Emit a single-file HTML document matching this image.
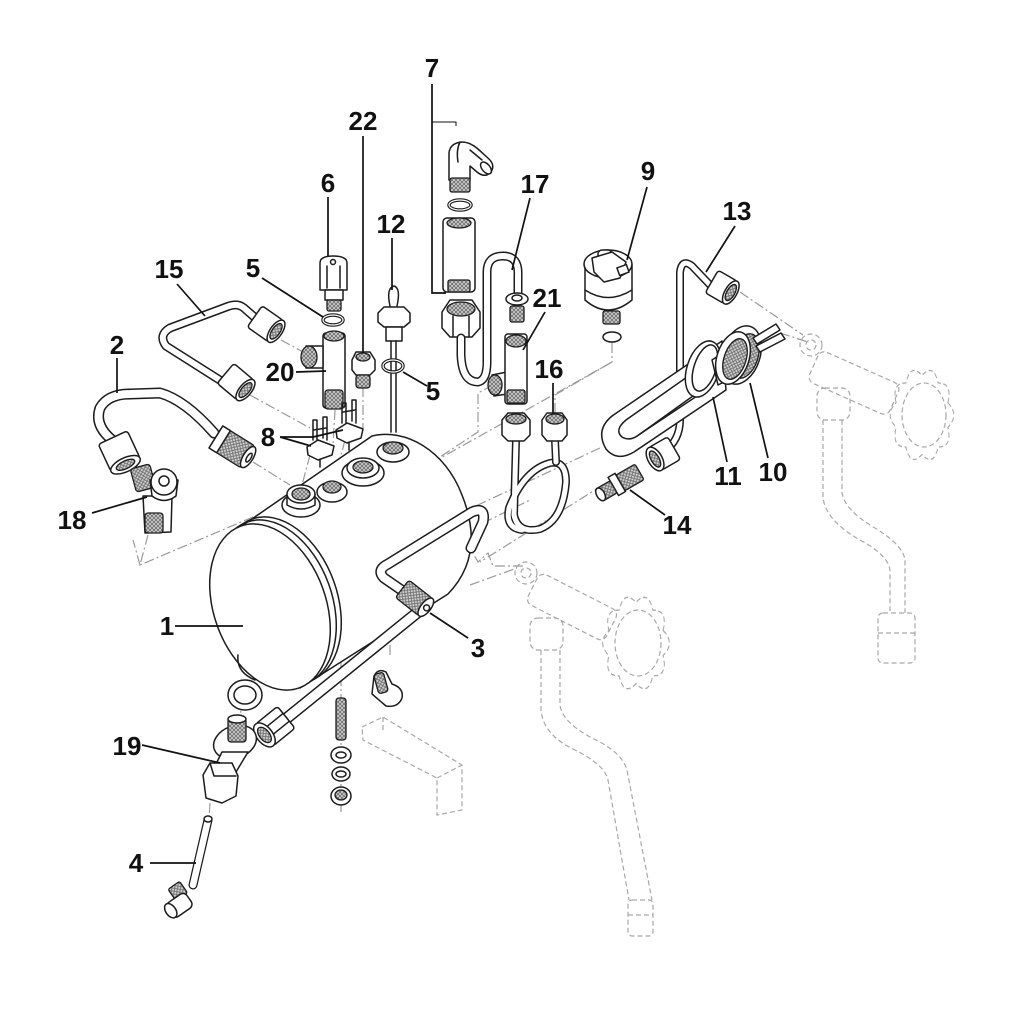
<!DOCTYPE html>
<html><head><meta charset="utf-8"><style>
html,body{margin:0;padding:0;background:#fff;}
svg{display:block}
text{font-family:"Liberation Sans",sans-serif;font-weight:bold;font-size:26px;fill:#111;text-anchor:middle;}
.k{fill:none;stroke:#1c1c1c;stroke-width:1.5;stroke-linejoin:round;stroke-linecap:round}
.w{fill:#fff;stroke:#1c1c1c;stroke-width:1.5;stroke-linejoin:round}
.h{fill:url(#hp);stroke:#1c1c1c;stroke-width:1.3}
.d{fill:none;stroke:#9a9a9a;stroke-width:1.2;stroke-dasharray:10 3 2 3}
.g{fill:none;stroke:#a8a8a8;stroke-width:1.2;stroke-dasharray:5 3}
.l{fill:none;stroke:#111;stroke-width:1.7}
.to{fill:none;stroke:#1c1c1c;stroke-linecap:round;stroke-linejoin:round}
.ti{fill:none;stroke:#fff;stroke-linecap:round;stroke-linejoin:round}
.ring{fill:none;stroke:#1c1c1c;stroke-width:3.5}
.ringi{fill:none;stroke:#fff;stroke-width:1.2}
</style></head><body>
<svg width="1024" height="1024" viewBox="0 0 1024 1024" xmlns="http://www.w3.org/2000/svg">
<defs>
<pattern id="hp" width="4" height="4" patternUnits="userSpaceOnUse"><rect width="4" height="4" fill="#d2d2d2"/><path d="M0 4L4 0M0 0L4 4" stroke="#6a6a6a" stroke-width="0.8"/></pattern>
<path id="wheel" d="M30.8,-11.1 Q45,0 30.8,11.1 Q36.4,29.4 19.1,29.1 Q13.9,47.6 0,36 Q-13.9,47.6 -19.1,29.1 Q-36.4,29.4 -30.8,11.1 Q-45,0 -30.8,-11.1 Q-36.4,-29.4 -19.1,-29.1 Q-13.9,-47.6 0,-36 Q13.9,-47.6 19.1,-29.1 Q36.4,-29.4 30.8,-11.1 Z"/>
</defs>

<!-- dash-dot connector lines -->
<g class="d">
<path d="M148 535 L140 565 L300 497"/>
<path d="M140 565 L133 540"/>
<path d="M253 462 L290 485"/>
<path d="M250 395 L310 428"/>
<path d="M281 340 L305 353"/>
<path d="M335 410 L333 445"/>
<path d="M363 387 L363 428"/>
<path d="M310 455 L302 485"/>
<path d="M345 440 L335 478"/>
<path d="M493 385 L478 393 L478 432 L440 457"/>
<path d="M612 343 L612 362 L437 460"/>
<path d="M555 413 L555 395 L612 362"/>
<path d="M600 448 L420 532"/>
<path d="M603 485 L480 562"/>
<path d="M377 477 L473 553 L478 562 L488 553 L493 566 L525 566"/>
<path d="M483 523 L530 500"/>
<path d="M740 292 L803 335"/>
<path d="M780 333 L808 342"/>
<path d="M470 585 L517 568"/>
<path d="M390 627 L390 655"/>
<path d="M341 640 L341 812"/>
<path d="M245 680 L240 717"/>
<path d="M210 803 L209 818"/>
</g>

<!-- ghost group 1 -->
<g class="g">
<circle cx="526" cy="573" r="11"/>
<circle cx="526" cy="573" r="5"/>
<rect x="528" y="590" width="88" height="34" rx="7" transform="rotate(27 572 607)"/>
<rect x="530" y="618" width="33" height="32" rx="8"/>
<path d="M541 650 L541 710 Q543 735 575 750 Q605 765 608 780 L629 900"/>
<path d="M560 650 L560 705 Q562 722 592 738 Q622 752 627 770 L652 900"/>
<rect x="628" y="900" width="25" height="36" rx="4"/>
<path d="M628 915 L653 915"/>
<g transform="translate(636 643) scale(0.88 1.13)"><use href="#wheel"/></g>
<ellipse cx="638" cy="643" rx="23" ry="33"/>
</g>
<!-- ghost group 2 -->
<g class="g">
<circle cx="811" cy="345" r="11"/>
<circle cx="811" cy="345" r="5"/>
<rect x="810" y="366" width="88" height="34" rx="7" transform="rotate(24 854 383)"/>
<rect x="817" y="388" width="33" height="32" rx="8"/>
<path d="M823 420 L823 497 Q825 520 860 540 Q888 555 890 570 L890 613"/>
<path d="M842 420 L842 492 Q844 510 875 528 Q903 545 905 560 L905 613"/>
<rect x="878" y="613" width="37" height="50" rx="5"/>
<path d="M878 633 L915 633"/>
<g transform="translate(922 415) scale(0.84 1.1)"><use href="#wheel"/></g>
<ellipse cx="924" cy="415" rx="22" ry="32"/>
</g>
<!-- bracket ghost -->
<path class="g" d="M362 727 L383 717 L462 765 L462 810 L437 815 L437 778 L363 740 Z M383 717 L383 730 M437 778 L462 765"/>

<!-- TANK -->
<path class="w" d="M236 530 L372 436 C405 428 445 450 462 495 C476 530 476 565 448 594 L300 688 Z"/>
<ellipse class="k" cx="281" cy="600" rx="56" ry="86" transform="rotate(-20 281 600)" stroke-width="1"/>
<ellipse class="k" cx="276" cy="603" rx="56" ry="86" transform="rotate(-20 276 603)" stroke-width="1"/>
<ellipse class="w" cx="270" cy="607" rx="56" ry="86" transform="rotate(-20 270 607)"/>
<path class="k" d="M238 655 Q236 672 255 680"/>
<!-- ports -->
<g>
<ellipse class="w" cx="301" cy="505" rx="19" ry="12"/>
<path class="w" d="M287 494 L287 505 Q301 513 315 505 L315 494"/>
<ellipse class="w" cx="301" cy="494" rx="14" ry="9"/>
<ellipse class="h" cx="301" cy="494" rx="9" ry="6"/>
<ellipse class="w" cx="332" cy="492" rx="15" ry="10"/>
<ellipse class="h" cx="332" cy="487" rx="9" ry="6"/>
<ellipse class="w" cx="363" cy="473" rx="21" ry="13"/>
<ellipse class="w" cx="363" cy="468" rx="16" ry="10"/>
<ellipse class="h" cx="363" cy="467" rx="10" ry="6"/>
<ellipse class="w" cx="393" cy="452" rx="16" ry="10"/>
<ellipse class="h" cx="393" cy="448" rx="10" ry="6"/>
</g>

<!-- Pipe 3 U-loop -->
<path class="to" stroke-width="11" d="M413 598 L384 578 Q376 570 388 564 L472 512 Q486 506 483 522 L471 548"/>
<path class="ti" stroke-width="8" d="M413 598 L384 578 Q376 570 388 564 L472 512 Q486 506 483 522 L471 548"/>
<!-- long lower tube -->
<path class="to" stroke-width="12" d="M418 612 L282 722"/>
<path class="ti" stroke-width="9" d="M418 612 L282 722"/>
<!-- nut 3 -->
<g transform="rotate(38 414 598)">
<rect class="h" x="399" y="587" width="30" height="22" rx="3"/>
<ellipse class="w" cx="429" cy="598" rx="5" ry="11"/>
<circle class="w" cx="430" cy="598" r="3"/>
</g>
<!-- lower nut -->
<g transform="rotate(-39 273 728)">
<rect class="w" x="262" y="714" width="28" height="28" rx="3"/>
<path class="k" d="M262 723 L290 723 M262 733 L290 733"/>
<ellipse class="w" cx="262" cy="728" rx="8" ry="14"/>
<ellipse class="h" cx="262" cy="728" rx="5" ry="9"/>
</g>

<!-- washer -->
<ellipse class="w" cx="245" cy="695" rx="17" ry="15"/>
<ellipse class="w" cx="245" cy="695" rx="11" ry="9"/>
<!-- part 19 -->
<g>
<ellipse class="w" cx="235" cy="742" rx="22" ry="16" transform="rotate(-20 235 742)"/>
<path class="w" d="M222 752 L214 768 L236 772 L248 752 Z"/>
<path class="w" d="M203 775 L210 763 L232 763 L238 776 L236 796 L222 803 L206 798 Z"/>
<path class="k" d="M210 763 L214 776 L236 776"/>
<rect class="h" x="228" y="718" width="18" height="24" rx="3"/>
<ellipse class="w" cx="237" cy="719" rx="9" ry="4"/>
</g>
<!-- part 4 tube -->
<path class="to" stroke-width="9" stroke="#666" d="M208 820 L193 885"/>
<path class="ti" stroke-width="6.5" d="M208 820 L193 885"/>
<ellipse class="w" cx="208" cy="819" rx="4" ry="3"/>
<g transform="rotate(-35 180 903)">
<rect class="h" x="178" y="885" width="14" height="14" rx="2"/>
<rect class="w" x="166" y="896" width="24" height="17" rx="5"/>
<ellipse class="w" cx="168" cy="904" rx="5" ry="8"/>
</g>
<!-- stud & washers -->
<rect class="h" x="336" y="698" width="10" height="42" rx="3"/>
<ellipse class="w" cx="341" cy="755" rx="10" ry="8"/><ellipse class="k" cx="341" cy="755" rx="5" ry="3"/>
<ellipse class="w" cx="341" cy="774" rx="9" ry="7"/><ellipse class="k" cx="341" cy="774" rx="5" ry="3"/>
<ellipse class="w" cx="341" cy="796" rx="10" ry="9"/><ellipse class="h" cx="341" cy="795" rx="6" ry="5"/>
<!-- elbow part -->
<path class="w" d="M374 676 Q378 668 386 672 L392 684 Q404 688 402 698 Q398 708 386 706 L372 694 Z"/>
<rect class="h" x="376" y="673" width="10" height="20" rx="3" transform="rotate(-15 381 683)"/>

<!-- Part 2 -->
<path class="to" stroke-width="11" d="M112 440 Q94 425 100 408 Q108 394 130 394 L160 393 Q185 400 214 433"/>
<path class="ti" stroke-width="8" d="M112 440 Q94 425 100 408 Q108 394 130 394 L160 393 Q185 400 214 433"/>
<g transform="rotate(-25 120 453)">
<rect class="w" x="104" y="436" width="32" height="30" rx="3"/>
<ellipse class="w" cx="120" cy="466" rx="16" ry="7"/>
<ellipse class="h" cx="120" cy="466" rx="10" ry="4"/>
</g>
<g transform="rotate(32 232 447)">
<rect class="h" x="213" y="434" width="38" height="26" rx="3"/>
<path class="w" d="M213 434 L222 434 L222 460 L213 460 Z"/>
<ellipse class="w" cx="251" cy="447" rx="5" ry="12"/>
<ellipse class="k" cx="252" cy="447" rx="2" ry="5"/>
</g>
<!-- Part 18 -->
<rect class="h" x="133" y="466" width="20" height="24" rx="3" transform="rotate(-15 143 478)"/>
<path class="w" d="M143 496 L172 496 L171 532 L145 533 Z"/>
<rect class="h" x="145" y="513" width="18" height="20" rx="3"/>
<path class="w" d="M150 480 L152 496 Q164 505 176 496 L178 480 Z"/>
<circle class="w" cx="164" cy="482" r="13"/>
<circle class="k" cx="164" cy="481" r="5"/>

<!-- Part 15 -->
<path class="to" stroke-width="9" d="M260 322 L244 308 Q238 303 229 306 L170 328 Q158 335 166 346 L226 384"/>
<path class="ti" stroke-width="6" d="M260 322 L244 308 Q238 303 229 306 L170 328 Q158 335 166 346 L226 384"/>
<g transform="rotate(35 267 325)">
<rect class="w" x="252" y="312" width="26" height="26" rx="3"/>
<ellipse class="w" cx="278" cy="325" rx="6" ry="13"/>
<ellipse class="h" cx="278" cy="325" rx="4" ry="9"/>
</g>
<g transform="rotate(40 237 383)">
<rect class="w" x="222" y="370" width="26" height="26" rx="3"/>
<ellipse class="w" cx="248" cy="383" rx="6" ry="13"/>
<ellipse class="h" cx="248" cy="383" rx="4" ry="9"/>
</g>

<!-- Part 6 -->
<path class="w" d="M320 263 Q320 256 333 256 Q347 256 347 263 L347 290 L320 290 Z"/>
<circle class="k" cx="333" cy="262" r="2.5"/>
<path class="k" d="M327 266 L327 288 M340 266 L340 288"/>
<rect class="w" x="325" y="290" width="18" height="10"/>
<rect class="h" x="327" y="300" width="14" height="11" rx="2"/>
<ellipse class="ring" cx="333" cy="320" rx="10" ry="5"/>
<ellipse class="ringi" cx="333" cy="320" rx="10" ry="5"/>
<!-- Part 20 -->
<rect class="w" x="323" y="333" width="22" height="75" rx="3"/>
<ellipse class="h" cx="334" cy="336" rx="10" ry="5"/>
<rect class="h" x="325" y="390" width="18" height="19" rx="3"/>
<path class="w" d="M306 346 L323 346 L323 368 L306 368 Z"/>
<ellipse class="h" cx="309" cy="357" rx="8" ry="11"/>
<!-- Part 22 -->
<path class="w" d="M352 360 L356 352 L370 352 L375 360 L375 370 L370 375 L356 375 L352 370 Z"/>
<ellipse class="h" cx="363" cy="357" rx="7" ry="4"/>
<rect class="h" x="356" y="375" width="14" height="13" rx="3"/>
<!-- Part 12 -->
<path class="k" d="M390 306 Q386 288 394 286 Q401 288 397 306"/>
<path class="w" d="M378 313 L384 307 L404 307 L410 313 L410 322 L404 327 L384 327 L378 322 Z"/>
<rect class="w" x="386" y="327" width="16" height="14"/>
<path class="k" d="M391 341 L391 432 M396 341 L396 432"/>
<ellipse class="ring" cx="393" cy="366" rx="10" ry="6"/>
<ellipse class="ringi" cx="393" cy="366" rx="10" ry="6"/>
<!-- Part 8 switches -->
<g>
<path class="w" d="M307 447 L318 440 L334 446 L332 455 L318 460 L308 455 Z"/>
<path class="k" d="M313 440 L313 420 L317 420 L317 440 M323 438 L323 417 L327 417 L327 440 M314 430 L326 428"/>
<path class="k" d="M320 460 L320 467"/>
<path class="w" d="M336 430 L347 423 L363 429 L361 438 L347 443 L337 438 Z"/>
<path class="k" d="M342 423 L342 403 L346 403 L346 423 M352 421 L352 400 L356 400 L356 423 M343 412 L355 410"/>
<path class="k" d="M349 443 L349 450"/>
</g>

<!-- Part 7 group -->
<path class="w" d="M449 180 L449 153 Q450 143 462 142 Q470 142 478 149 L489 159 Q496 166 490 173 Q484 178 477 172 L470 166 L470 180 Z"/>
<path class="k" d="M470 150 L482 160 M460 142 Q456 150 458 162"/>
<ellipse class="w" cx="486" cy="168" rx="4" ry="7" transform="rotate(-40 486 168)"/>
<rect class="h" x="450" y="178" width="20" height="14" rx="2"/>
<ellipse class="ring" cx="460" cy="205" rx="11" ry="5"/>
<ellipse class="ringi" cx="460" cy="205" rx="11" ry="5"/>
<rect class="w" x="443" y="218" width="32" height="74" rx="4"/>
<ellipse class="h" cx="459" cy="223" rx="12" ry="5"/>
<rect class="h" x="448" y="280" width="22" height="12" rx="2"/>
<path class="w" d="M442 312 L450 300 L472 300 L480 312 L480 328 L472 337 L450 337 L442 328 Z"/>
<ellipse class="h" cx="461" cy="309" rx="14" ry="7"/>
<path class="k" d="M453 316 L453 337 M469 316 L469 337"/>
<!-- Pipe 17 -->
<path class="to" stroke-width="9" d="M461 338 L461 355 Q462 382 478 382 Q487 380 487 362 L487 272 Q487 256 503 256 Q519 256 518 275 L518 293"/>
<path class="ti" stroke-width="6" d="M461 338 L461 355 Q462 382 478 382 Q487 380 487 362 L487 272 Q487 256 503 256 Q519 256 518 275 L518 293"/>
<ellipse class="w" cx="517" cy="299" rx="11" ry="6"/>
<ellipse class="k" cx="517" cy="298" rx="5" ry="3"/>
<rect class="h" x="510" y="306" width="14" height="16" rx="2"/>
<!-- Part 21 -->
<path class="w" d="M492 375 L507 372 L507 394 L494 396 Z"/>
<ellipse class="h" cx="495" cy="385" rx="7" ry="10"/>
<rect class="w" x="505" y="334" width="22" height="70" rx="3"/>
<ellipse class="h" cx="516" cy="341" rx="10" ry="6"/>
<rect class="h" x="507" y="390" width="18" height="13" rx="2"/>
<!-- Part 16 -->
<path class="to" stroke-width="8" d="M516 440 L514 515 Q518 534 540 529 Q563 520 566 482 Q566 460 550 463 Q524 470 509 508 Q505 528 522 530"/>
<path class="ti" stroke-width="5" d="M516 440 L514 515 Q518 534 540 529 Q563 520 566 482 Q566 460 550 463 Q524 470 509 508 Q505 528 522 530"/>
<path class="to" stroke-width="8" d="M555 440 L556 462"/>
<path class="ti" stroke-width="5" d="M555 440 L556 462"/>
<path class="w" d="M502 420 L508 413 L524 413 L530 420 L530 435 L524 441 L508 441 L502 435 Z"/>
<ellipse class="h" cx="516" cy="419" rx="10" ry="5"/>
<path class="w" d="M542 420 L547 413 L562 413 L567 420 L567 435 L562 441 L547 441 L542 435 Z"/>
<ellipse class="h" cx="555" cy="419" rx="9" ry="5"/>

<!-- Part 9 -->
<path class="w" d="M585 265 L585 300 Q608 320 632 300 L632 265 Z"/>
<ellipse class="w" cx="608" cy="264" rx="24" ry="14"/>
<path class="k" d="M585 290 Q608 305 632 290"/>
<rect class="w" x="598" y="250" width="14" height="12" rx="4"/>
<path class="w" d="M592 258 L612 252 L626 262 L620 278 L604 282 L594 272 Z"/>
<rect class="w" x="618" y="266" width="10" height="8" transform="rotate(-20 623 270)"/>
<rect class="h" x="603" y="311" width="17" height="13" rx="2"/>
<ellipse class="k" cx="612" cy="337" rx="9" ry="5"/>

<!-- Part 13 -->
<path class="to" stroke-width="8" d="M712 287 L692 266 Q682 258 680 272 L680 420 Q680 440 664 452"/>
<path class="ti" stroke-width="5" d="M712 287 L692 266 Q682 258 680 272 L680 420 Q680 440 664 452"/>
<g transform="rotate(30 723 288)">
<rect class="w" x="710" y="275" width="22" height="26" rx="3"/>
<ellipse class="w" cx="732" cy="288" rx="6" ry="13"/>
<ellipse class="h" cx="732" cy="288" rx="4" ry="9"/>
</g>
<!-- Element 10/11 -->
<path class="w" d="M722 341 L612 416 Q595 430 606 449 Q617 462 634 452 L726 390 Z"/>
<path class="k" d="M714 358 L626 420 Q614 430 622 437 Q630 442 640 434 L718 378"/>
<path class="k" d="M640 434 L712 386"/>
<ellipse class="w" cx="703" cy="369" rx="16" ry="29" transform="rotate(18 703 369)"/>
<ellipse class="w" cx="705" cy="368" rx="11" ry="24" transform="rotate(18 705 368)"/>
<path class="w" d="M712 360 L724 352 L732 378 L718 385 Z"/>
<ellipse class="w" cx="741" cy="355" rx="19" ry="30" transform="rotate(18 741 355)"/>
<ellipse class="h" cx="745" cy="356" rx="13" ry="23" transform="rotate(18 745 356)"/>
<ellipse class="w" cx="733" cy="358" rx="16" ry="27" transform="rotate(18 733 358)"/>
<ellipse class="h" cx="735" cy="359" rx="11" ry="21" transform="rotate(18 735 359)"/>
<path class="w" d="M753 338 L776 324 L780 330 L757 344 Z"/>
<path class="w" d="M756 346 L781 333 L785 339 L760 352 Z"/>
<!-- lower nut 13 -->
<g transform="rotate(-30 662 455)">
<rect class="w" x="654" y="442" width="22" height="26" rx="3"/>
<ellipse class="w" cx="654" cy="455" rx="7" ry="13"/>
<ellipse class="h" cx="654" cy="455" rx="4" ry="9"/>
</g>
<!-- Part 14 -->
<g transform="rotate(-30 620 482)">
<rect class="h" x="620" y="474" width="22" height="18" rx="2"/>
<path class="w" d="M612 472 L620 472 L620 493 L612 493 Z"/>
<rect class="h" x="596" y="476" width="16" height="14" rx="2"/>
<ellipse class="w" cx="597" cy="483" rx="4" ry="7"/>
</g>

<!-- Leaders -->
<g class="l">
<path d="M432 84 L432 293 L446 293"/>
<path d="M432 122 L456 122 L456 126" stroke-width="1"/>
<path d="M363 136 L363 353"/>
<path d="M328 197 L328 256"/>
<path d="M530 198 L512 270"/>
<path d="M647 187 L627 260"/>
<path d="M735 226 L706 272"/>
<path d="M392 238 L392 290"/>
<path d="M177 284 L205 316"/>
<path d="M262 278 L323 317"/>
<path d="M545 312 L523 350"/>
<path d="M117 358 L117 393"/>
<path d="M296 372 L326 371"/>
<path d="M553 383 L553 413"/>
<path d="M403 372 L427 386"/>
<path d="M280 437 L313 437 M280 437 L311 446 M313 437 L343 430"/>
<path d="M713 397 L727 462"/>
<path d="M750 383 L768 458"/>
<path d="M630 490 L665 515"/>
<path d="M92 513 L147 497"/>
<path d="M175 626 L243 626"/>
<path d="M468 638 L430 613"/>
<path d="M142 745 L220 763"/>
<path d="M150 863 L196 863"/>
</g>

<!-- Labels -->
<text x="432" y="77">7</text>
<text x="363" y="130">22</text>
<text x="328" y="192">6</text>
<text x="535" y="193">17</text>
<text x="648" y="180">9</text>
<text x="737" y="220">13</text>
<text x="391" y="233">12</text>
<text x="169" y="278">15</text>
<text x="253" y="277">5</text>
<text x="547" y="307">21</text>
<text x="117" y="354">2</text>
<text x="280" y="381">20</text>
<text x="549" y="378">16</text>
<text x="433" y="400">5</text>
<text x="268" y="446">8</text>
<text x="728" y="485">11</text>
<text x="773" y="481">10</text>
<text x="677" y="534">14</text>
<text x="72" y="529">18</text>
<text x="167" y="635">1</text>
<text x="478" y="657">3</text>
<text x="127" y="755">19</text>
<text x="136" y="872">4</text>
</svg>
</body></html>
